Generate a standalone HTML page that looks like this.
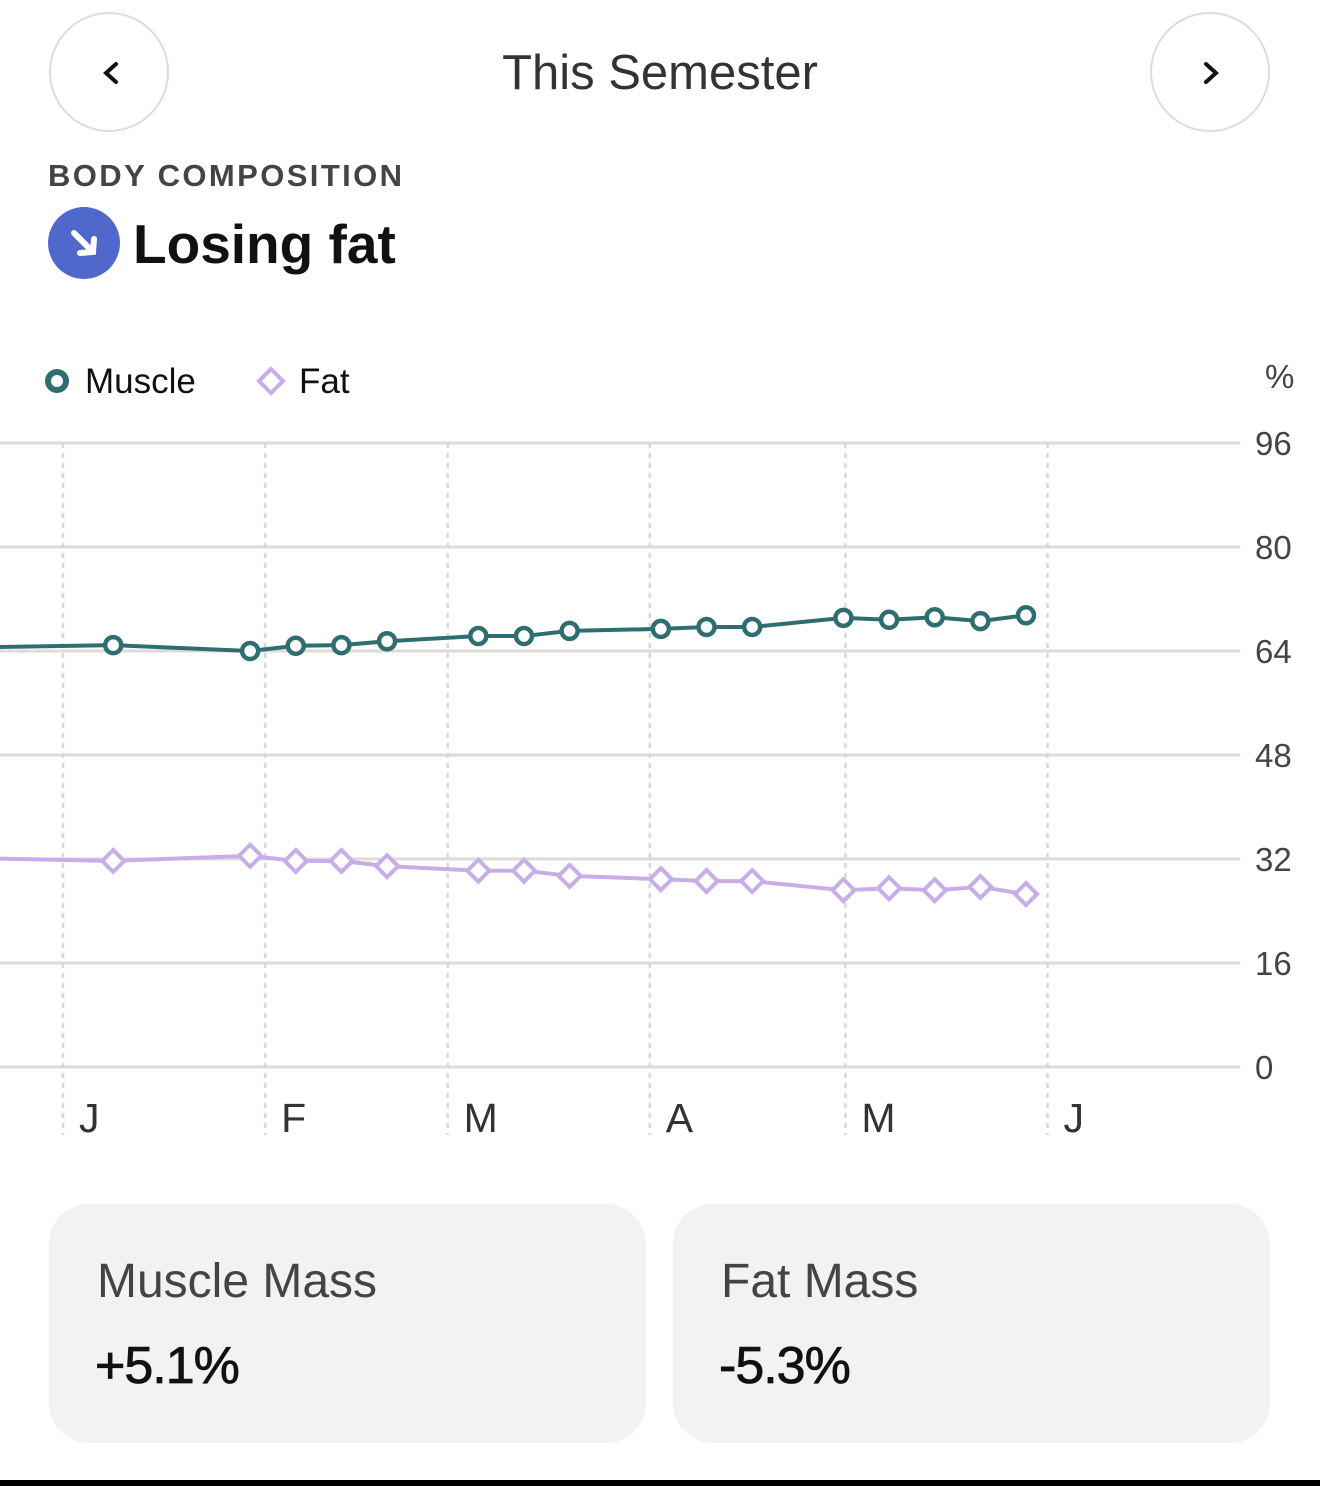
<!DOCTYPE html>
<html><head><meta charset="utf-8"><style>
body{margin:0;width:1320px;height:1486px;background:#fff;font-family:"Liberation Sans",sans-serif;position:relative;overflow:hidden}
.abs{position:absolute}
.nav{position:absolute;top:12px;width:120px;height:120px;border:2.5px solid #dcdcd8;border-radius:50%;box-sizing:border-box}
.card{position:absolute;top:1204px;width:597px;height:239px;background:#f3f2f0;border-radius:40px}
.card .t{position:absolute;left:48px;top:50px;font-size:48px;color:#444}
.card .v{position:absolute;left:46px;top:132px;font-size:52px;color:#111;letter-spacing:-1px;-webkit-text-stroke:0.8px #111}
</style></head><body>
<div class="nav" style="left:49px">
<svg width="116" height="116" class="abs" style="left:0;top:0"><path d="M65 50 L55 59 L65 68" stroke="#111" stroke-width="4" fill="none" stroke-linecap="round"/></svg></div>
<div class="nav" style="left:1150px">
<svg width="116" height="116" class="abs" style="left:0;top:0"><path d="M54 50 L64 59 L54 68" stroke="#111" stroke-width="4" fill="none" stroke-linecap="round"/></svg></div>
<div class="abs" style="left:0;width:1320px;top:45px;text-align:center;font-size:49px;color:#333">This Semester</div>
<div class="abs" style="left:48px;top:158px;font-size:31px;font-weight:bold;color:#444;letter-spacing:2.4px">BODY COMPOSITION</div>
<svg class="abs" style="left:48px;top:207px" width="72" height="72"><circle cx="36" cy="36" r="36" fill="#5068cc"/><path d="M26 26 L44 44 M46 32 L45 45 L32 46" stroke="#fff" stroke-width="6" fill="none" stroke-linecap="round"/></svg>
<div class="abs" style="left:133px;top:212px;font-size:55px;font-weight:bold;color:#111">Losing fat</div>

<svg class="abs" style="left:0;top:0" width="1320" height="1190" id="chart">
<g>
<circle cx="57" cy="381" r="9" fill="none" stroke="#2f6e6e" stroke-width="6"/>
<text x="85" y="393" font-size="35" fill="#111">Muscle</text>
<path d="M271 369 L283 381 L271 393 L259 381Z" fill="none" stroke="#c8aee8" stroke-width="4"/>
<text x="299" y="393" font-size="35" fill="#111">Fat</text>
</g>
<text x="1265" y="388" font-size="33" fill="#444">%</text>
<g id="grid"></g><g id="series"></g>
</svg>

<div class="card" style="left:49px"><div class="t">Muscle Mass</div><div class="v">+5.1%</div></div>
<div class="card" style="left:673px"><div class="t">Fat Mass</div><div class="v">-5.3%</div></div>
<div class="abs" style="left:0;top:1480px;width:1320px;height:6px;background:#000"></div>
<script>
const yTicks=[0,16,32,48,64,80,96];
const months=['J','F','M','A','M','J'];
const monthDays=[0,31,59,90,120,151];
const days=[-16,7.7,28.7,35.7,42.7,49.7,63.7,70.7,77.7,91.7,98.7,105.7,119.7,126.7,133.7,140.7,147.7];
const muscle=[64.5,64.9,64.0,64.8,64.9,65.5,66.3,66.3,67.1,67.4,67.7,67.7,69.1,68.8,69.2,68.6,69.5];
const fat=[32.2,31.7,32.5,31.7,31.7,30.9,30.2,30.2,29.4,28.9,28.6,28.6,27.2,27.5,27.2,27.7,26.6];
const NS='http://www.w3.org/2000/svg';
const xS=d=>63+d*6.52, yS=v=>1067-v*6.5;
const grid=document.getElementById('grid'), ser=document.getElementById('series');
function mk(tag,attrs,parent){const e=document.createElementNS(NS,tag);for(const k in attrs)e.setAttribute(k,attrs[k]);parent.appendChild(e);return e;}
yTicks.forEach(t=>{
 const l=mk('line',{x1:0,x2:1240,y1:yS(t),y2:yS(t),stroke:'#dcdbd6','stroke-width':3},grid);
 
 
 const tx=mk('text',{x:1255,y:yS(t)+12,'font-size':33,fill:'#444'},grid);tx.textContent=t;
 
 
});
months.forEach((m,i)=>{
 const x=xS(monthDays[i]);
 const l=mk('line',{x1:x,x2:x,y1:443,y2:1135,stroke:'#d8d8d8','stroke-width':2.5,'stroke-dasharray':'5,5'},grid);
 
 
 const tx=mk('text',{x:x+16,y:1132,'font-size':41,fill:'#333'},grid);tx.textContent=m;
 
 
});
function series(vals,color,shape,name){
 const pts=days.map((d,i)=>xS(d)+','+yS(vals[i])).join(' ');
 const pl=mk('polyline',{points:pts,fill:'none',stroke:color,'stroke-width':4,'stroke-linejoin':'round'},ser);
 
 
 days.forEach((d,i)=>{
  if(d<0)return;
  const x=xS(d),y=yS(vals[i]);let e;
  if(shape==='c')e=mk('circle',{cx:x,cy:y,r:8,fill:'#fff',stroke:color,'stroke-width':4.5},ser);
  else e=mk('path',{d:`M${x} ${y-11}L${x+11} ${y}L${x} ${y+11}L${x-11} ${y}Z`,fill:'#fff',stroke:color,'stroke-width':4},ser);
  
  
 });
}
series(fat,'#c8aee8','d','fat');
series(muscle,'#2f6e6e','c','muscle');
</script>
</body></html>
